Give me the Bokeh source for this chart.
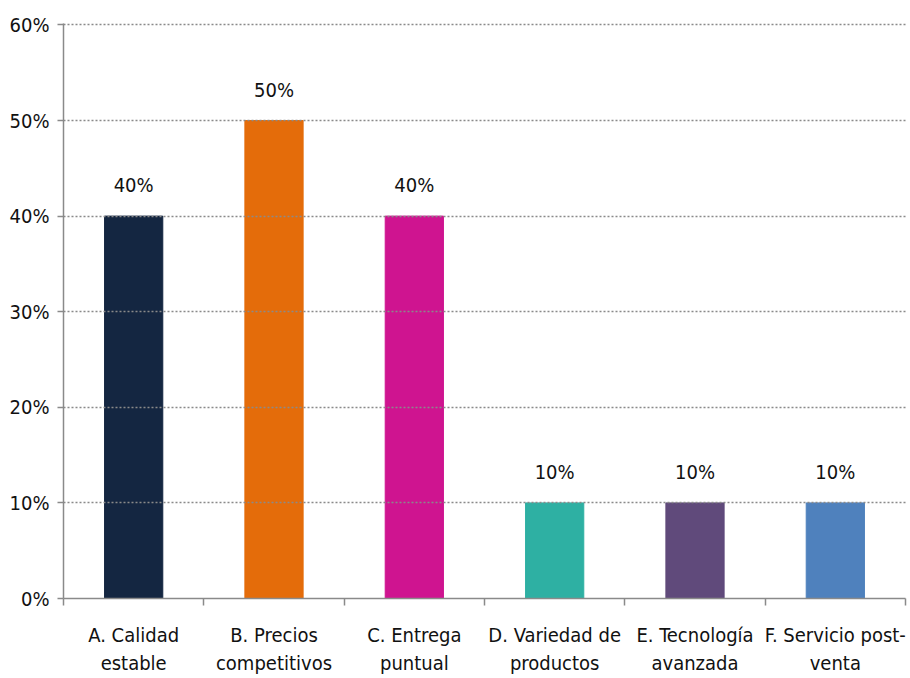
from bokeh.plotting import figure
from bokeh.models import ColumnDataSource, FixedTicker, Range1d, NumeralTickFormatter
from bokeh.core.properties import value
from bokeh.embed import file_html
from bokeh.resources import INLINE

categories = ["A. Calidad\nestable", "B. Precios\ncompetitivos", "C. Entrega\npuntual",
              "D. Variedad de\nproductos", "E. Tecnología\navanzada", "F. Servicio post-\nventa"]
values = [0.40, 0.50, 0.40, 0.10, 0.10, 0.10]
colors = ["#142641", "#e46c0a", "#cf1490", "#2eb0a3", "#604a7b", "#4f81bd"]
y_ticks = [0.0, 0.1, 0.2, 0.3, 0.4, 0.5, 0.6]

FONT = "'DejaVu Sans Condensed', 'Liberation Sans Narrow', 'Liberation Sans', sans-serif"

xs = [i + 0.5 for i in range(len(categories))]
src = ColumnDataSource(dict(x=xs, top=values, color=colors,
                            label=[f"{int(round(v*100))}%" for v in values]))

p = figure(width=910, height=678, output_backend="svg", toolbar_location=None,
           x_range=Range1d(0, len(categories)), y_range=Range1d(0, 0.6015),
           min_border_left=63, min_border_right=5, min_border_top=23, min_border_bottom=78)
p.outline_line_color = None
p.background_fill_color = "white"

p.vbar(x="x", top="top", width=0.415, color="color", source=src)
p.text(x="x", y="top", text="label", source=src, text_align="center", text_baseline="bottom",
       y_offset=-19, text_font=value(FONT), text_font_size="20px", text_color="#111111")

# grid
p.xgrid.grid_line_color = None
p.ygrid.ticker = FixedTicker(ticks=y_ticks[1:])
p.ygrid.grid_line_color = "#8a8a8a"
p.ygrid.grid_line_dash = "2 2"
p.ygrid.grid_line_width = 1.5
p.ygrid.level = "overlay"

# y axis
p.yaxis.ticker = FixedTicker(ticks=y_ticks)
p.yaxis.formatter = NumeralTickFormatter(format="0%")
p.yaxis.axis_line_color = "#8a8a8a"
p.yaxis.axis_line_width = 1.5
p.yaxis.major_tick_line_color = "#8a8a8a"
p.yaxis.major_tick_line_width = 1.5
p.yaxis.major_tick_out = 6
p.yaxis.major_tick_in = 0
p.yaxis.minor_tick_line_color = None
p.yaxis.major_label_text_font = FONT
p.yaxis.major_label_text_font_size = "20px"
p.yaxis.major_label_text_color = "#111111"
p.yaxis.major_label_standoff = 8

# x axis
p.xaxis.ticker = FixedTicker(ticks=xs, minor_ticks=list(range(len(categories) + 1)))
p.xaxis.major_label_overrides = {x: c for x, c in zip(xs, categories)}
p.xaxis.axis_line_color = "#8a8a8a"
p.xaxis.axis_line_width = 1.5
p.xaxis.major_tick_line_color = None
p.xaxis.minor_tick_line_color = "#8a8a8a"
p.xaxis.minor_tick_line_width = 1.5
p.xaxis.minor_tick_out = 7
p.xaxis.minor_tick_in = 0
p.xaxis.major_label_text_font = FONT
p.xaxis.major_label_text_font_size = "20px"
p.xaxis.major_label_text_color = "#111111"
p.xaxis.major_label_standoff = 17

open("out.html", "w").write(file_html(p, INLINE))
